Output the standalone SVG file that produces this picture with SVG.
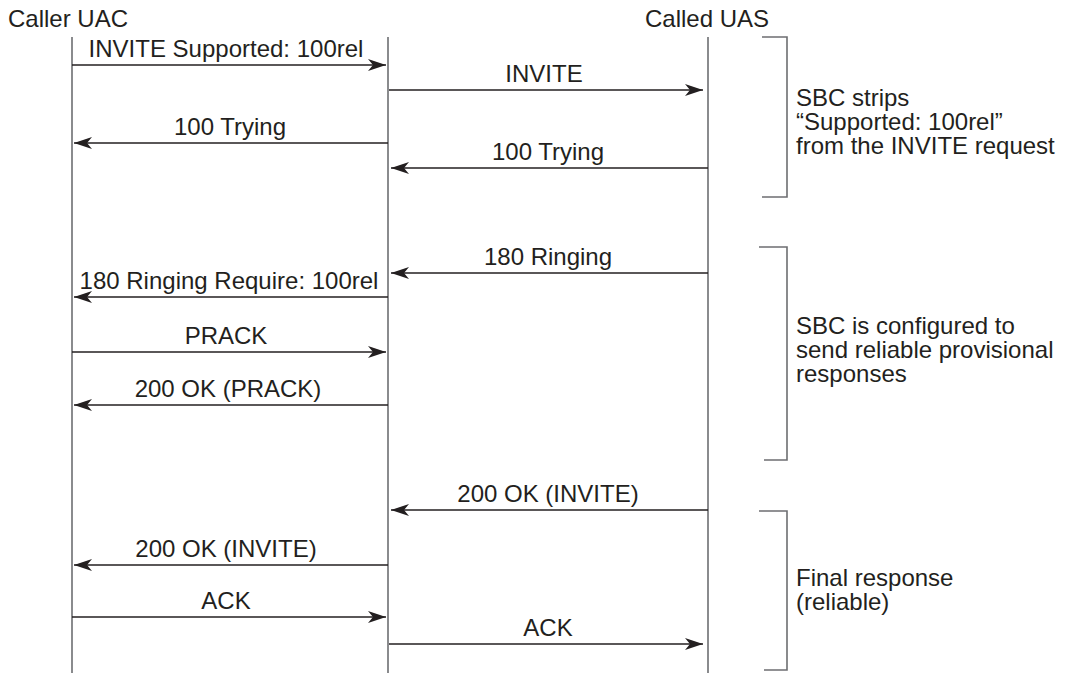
<svg xmlns="http://www.w3.org/2000/svg" width="1066" height="673" viewBox="0 0 1066 673">
<style>
text{font-family:"Liberation Sans",Arial,sans-serif;font-size:24px;fill:#231f20}
.lbl{text-anchor:middle}
.life{stroke:#6d6e71;stroke-width:1.6;fill:none}
.br{stroke:#6d6e71;stroke-width:1.6;fill:none}
.msg{stroke:#231f20;stroke-width:1.6;fill:none;marker-end:url(#ah)}
</style>
<defs>
<marker id="ah" viewBox="0 0 18 12" refX="18" refY="6" markerWidth="18" markerHeight="12" markerUnits="userSpaceOnUse" orient="auto">
<path d="M0,0 L18,6 L0,12 L5,6 Z" fill="#231f20"/>
</marker>
</defs>
<rect width="1066" height="673" fill="#fff"/>
<g id="caller">
<text x="8" y="27">Caller UAC</text>
<line class="life" x1="72" y1="37" x2="72" y2="673"/>
</g>
<g id="sbc">
<line class="life" x1="388" y1="37" x2="388" y2="673"/>
</g>
<g id="called">
<text x="645" y="27">Called UAS</text>
<line class="life" x1="708" y1="37" x2="708" y2="673"/>
</g>
<g id="connectors">
<line class="msg" x1="72" y1="65" x2="386" y2="65"/>
<text class="lbl" x="226" y="57">INVITE Supported: 100rel</text>
<line class="msg" x1="389" y1="90" x2="703" y2="90"/>
<text class="lbl" x="544" y="82">INVITE</text>
<line class="msg" x1="388" y1="143" x2="74" y2="143"/>
<text class="lbl" x="230" y="135">100 Trying</text>
<line class="msg" x1="708" y1="168" x2="391" y2="168"/>
<text class="lbl" x="548" y="160">100 Trying</text>
<line class="msg" x1="708" y1="273" x2="391" y2="273"/>
<text class="lbl" x="548" y="265">180 Ringing</text>
<line class="msg" x1="388" y1="297" x2="74" y2="297"/>
<text class="lbl" x="229" y="289">180 Ringing Require: 100rel</text>
<line class="msg" x1="72" y1="352" x2="386" y2="352"/>
<text class="lbl" x="226" y="344">PRACK</text>
<line class="msg" x1="388" y1="405" x2="74" y2="405"/>
<text class="lbl" x="228" y="397">200 OK (PRACK)</text>
<line class="msg" x1="708" y1="510" x2="391" y2="510"/>
<text class="lbl" x="548" y="502">200 OK (INVITE)</text>
<line class="msg" x1="388" y1="565" x2="74" y2="565"/>
<text class="lbl" x="226" y="557">200 OK (INVITE)</text>
<line class="msg" x1="72" y1="617" x2="386" y2="617"/>
<text class="lbl" x="226" y="609">ACK</text>
<line class="msg" x1="389" y1="644" x2="703" y2="644"/>
<text class="lbl" x="548" y="636">ACK</text>
</g>
<g id="note-strip">
<path class="br" d="M762,37 H787 V197 H762"/>
<text x="796" y="106">SBC strips</text>
<text x="796" y="130">“Supported: 100rel”</text>
<text x="796" y="154">from the INVITE request</text>
</g>
<g id="note-reliable">
<path class="br" d="M759,247 H787 V460 H764"/>
<text x="796" y="334">SBC is configured to</text>
<text x="796" y="358">send reliable provisional</text>
<text x="796" y="382">responses</text>
</g>
<g id="note-final">
<path class="br" d="M759,511 H787 V670 H764"/>
<text x="796" y="586">Final response</text>
<text x="796" y="610">(reliable)</text>
</g>
</svg>
